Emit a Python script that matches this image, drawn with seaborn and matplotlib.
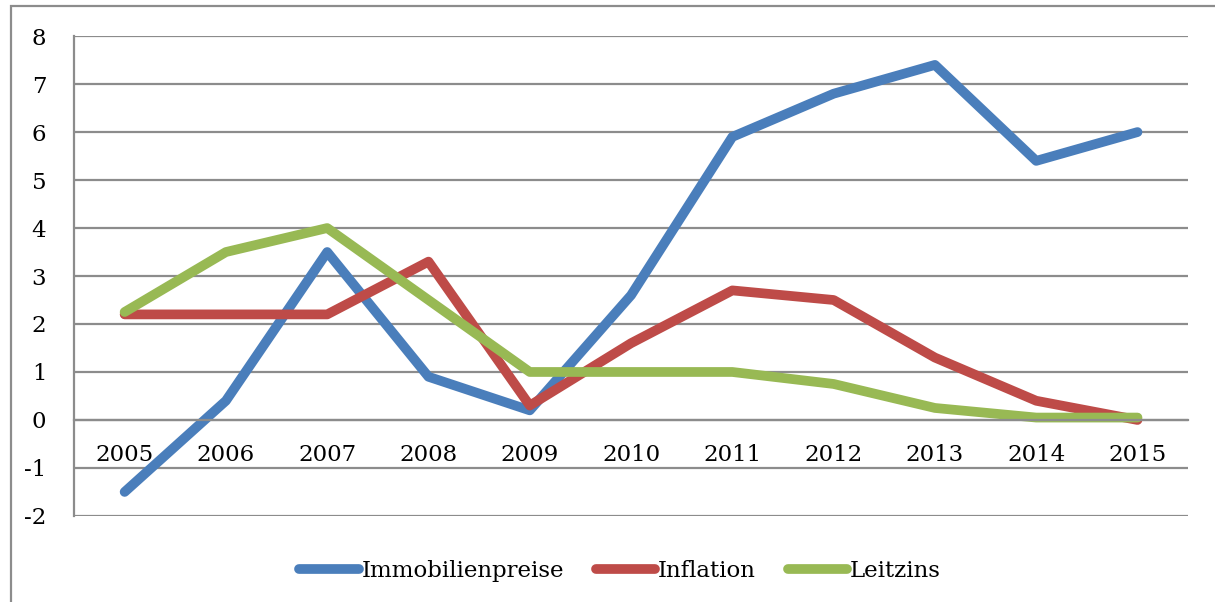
import pandas as pd
import matplotlib.pyplot as plt
import seaborn as sns
from matplotlib.patches import Rectangle

jahre = ['2005', '2006', '2007', '2008', '2009', '2010', '2011', '2012', '2013', '2014', '2015']
immobilienpreise = [-1.5, 0.4, 3.5, 0.9, 0.2, 2.6, 5.9, 6.8, 7.4, 5.4, 6.0]
inflation = [2.2, 2.2, 2.2, 3.3, 0.3, 1.6, 2.7, 2.5, 1.3, 0.4, 0.0]
leitzins = [2.25, 3.5, 4.0, 2.5, 1.0, 1.0, 1.0, 0.75, 0.25, 0.05, 0.05]
serien = ['Immobilienpreise', 'Inflation', 'Leitzins']
farben = ['#4A7EBB', '#BE4B48', '#98B954']

df = pd.DataFrame({
    'Jahr': jahre * 3,
    'pos': list(range(len(jahre))) * 3,
    'Wert': immobilienpreise + inflation + leitzins,
    'Serie': [s for s in serien for _ in jahre],
})

sns.set_style('white')
plt.rcParams['font.family'] = ['DejaVu Serif']
plt.rcParams['axes.unicode_minus'] = False
plt.rcParams['text.color'] = 'black'
plt.rcParams['xtick.labelcolor'] = 'black'
plt.rcParams['ytick.labelcolor'] = 'black'

fig = plt.figure(figsize=(12.15, 6.02), dpi=100)
ax = fig.add_axes([0.0609, 0.143, 0.917, 0.797])

sns.lineplot(data=df, x='pos', y='Wert', hue='Serie', palette=farben,
             linewidth=7, ax=ax, legend=False, sort=False)
for l in ax.lines:
    l.set_solid_capstyle('round')
    l.set_solid_joinstyle('round')

grau = '#8c8c8c'
ax.set_xlim(-0.5, len(jahre) - 0.5)
ax.set_ylim(-2, 8)
ax.set_yticks(range(-2, 9))
ax.yaxis.grid(True, color=grau, linewidth=1.6)
ax.set_axisbelow(True)
for s in ['top', 'right']:
    ax.spines[s].set_visible(False)
ax.spines['left'].set_color(grau)
ax.spines['left'].set_linewidth(1.6)
ax.spines['bottom'].set_position(('data', 0))
ax.spines['bottom'].set_color(grau)
ax.spines['bottom'].set_linewidth(1.6)

ax.set_xticks(range(len(jahre)))
ax.set_xticklabels(jahre)
ax.set_xticks([i - 0.5 for i in range(len(jahre) + 1)], minor=True)
ax.tick_params(axis='x', which='major', length=0, pad=17, labelsize=16.5, labelcolor='black')
ax.tick_params(axis='x', which='minor', length=6, width=1.6, color=grau, direction='out')
ax.tick_params(axis='y', length=6, width=1.6, color=grau, direction='out', pad=14,
               labelsize=16.5, labelcolor='black')
ax.set_xlabel('')
ax.set_ylabel('')

handles = [plt.Line2D([], [], color=c, linewidth=7, solid_capstyle='round') for c in farben]
leg = ax.legend(handles, serien, loc='center', bbox_to_anchor=(0.49, -0.115), ncol=3,
                frameon=False, fontsize=16.5, handlelength=2.6, handletextpad=0.1,
                columnspacing=1.4)
for t in leg.get_texts():
    t.set_color('black')

fig.patches.append(Rectangle((0.009, -0.1), 1.2, 1.09, transform=fig.transFigure,
                             fill=False, edgecolor=grau, linewidth=1.6))

fig.savefig('out.png', dpi=100)
